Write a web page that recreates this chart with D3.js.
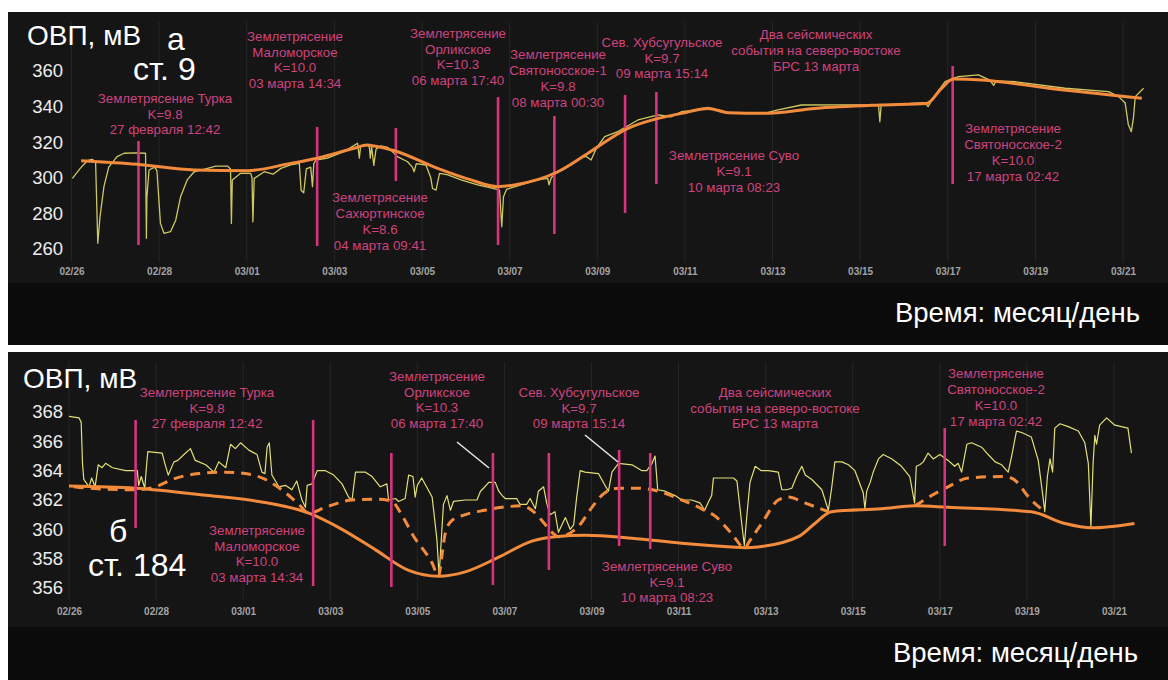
<!DOCTYPE html>
<html><head><meta charset="utf-8">
<script src="https://cdn.jsdelivr.net/npm/d3@7"></script>
<style>
body{margin:0;background:#fff;}
svg{display:block;font-family:Arial,"Liberation Sans",sans-serif;}
</style>
</head><body>
<svg id="c" width="1168" height="680"></svg>
<script>
// ---------- DATA ----------
// time offsets are in days since 26 Feb 2020 00:00
const tickDays = [0,2,4,6,8,10,12,14,16,18,20,22,24];
const yTicksTop = [260,280,300,320,340,360];
const yTicksBot = [356,358,360,362,364,366,368];

// Station 9: raw ORP (yellow) and trend (orange)
const topRaw = [[0.02,299.7],[0.2,305.3],[0.36,309.6],[0.47,310.4],[0.55,309],[0.6,263.2],[0.65,278],[0.74,295],[0.85,306],[1.04,311.9],[1.2,313.8],[1.45,314],[1.69,313.8],[1.7,290],[1.71,266],[1.72,289],[1.77,304.4],[1.9,306],[1.95,304],[2.03,274.4],[2.11,268.8],[2.26,269.7],[2.38,276.3],[2.49,289.4],[2.64,298.8],[2.8,303.4],[3.02,304.8],[3.29,306.6],[3.56,306.6],[3.63,305],[3.65,274.4],[3.67,298.8],[3.86,302.5],[4.09,302.5],[4.12,300],[4.14,275.3],[4.17,299.7],[4.4,303.4],[4.6,302],[4.78,305.3],[5.0,307.2],[5.2,308.1],[5.24,293],[5.3,291.6],[5.36,305],[5.46,306],[5.5,295],[5.53,308],[5.58,310],[5.84,311],[6.22,314.7],[6.53,319.4],[6.57,311],[6.6,318],[6.76,318.4],[6.8,317],[6.82,311],[6.85,317.5],[6.9,307],[6.95,316],[7.06,317.9],[7.22,317.1],[7.44,311.9],[7.67,309],[7.78,306],[7.82,303.4],[7.87,308],[8.09,307.2],[8.2,300],[8.24,294],[8.32,293.1],[8.4,302.5],[8.59,301.6],[8.89,298.8],[9.27,296],[9.62,294],[9.77,293.1],[9.82,272.5],[9.86,289.4],[9.93,293.5],[10.26,296],[10.64,298.8],[10.87,299.7],[10.9,296],[10.95,300],[11.06,302.5],[11.4,307.2],[11.6,311],[11.75,312],[11.86,310],[11.98,316.6],[12.17,323.1],[12.47,326],[12.93,332.5],[13.39,335.3],[13.69,334.3],[13.92,337.1],[14.15,337.7],[14.53,339.6],[14.91,336.6],[15.82,336.2],[16.1,338],[16.66,340.9],[17.5,341],[18.42,340.9],[18.45,331.5],[18.48,340.9],[19.0,341.5],[19.48,342.2],[19.55,340],[19.7,346],[19.94,354],[20.24,356.8],[20.7,357.8],[20.95,355],[21.05,352],[21.1,354.4],[21.54,354],[22.68,350.3],[23.67,348.4],[23.9,345.6],[24.05,342],[24.12,330],[24.19,325.9],[24.24,334],[24.28,345.6],[24.47,350.3]];
const topTrend = [[0.22,309.6],[1.5,307.6],[2.8,304.4],[4.02,304],[5.0,308.1],[5.61,311],[6.45,316.6],[6.75,318.4],[6.83,318.2],[7.37,315.2],[8.36,305.3],[9.12,298.8],[9.73,295],[10.11,296],[11.1,303.4],[11.79,313.8],[12.7,327.8],[13.39,333.4],[13.92,336.2],[14.53,339],[14.99,336.6],[15.82,336.2],[16.97,339],[18.45,340.9],[19.52,341.8],[19.86,350.3],[20.13,355.5],[20.78,355],[22.3,350.3],[24.43,344.7]];

// Station 184: raw ORP (yellow), lower envelope (solid orange), upper arcs (dashed orange)
const botRaw = [[0,367.7],[0.23,367.6],[0.28,367.3],[0.31,364.5],[0.34,363.4],[0.46,362.9],[0.52,363.5],[0.6,362.9],[0.67,364.4],[0.76,364.2],[0.84,364.5],[1.0,364.2],[1.3,364],[1.57,364],[1.6,363],[1.66,363.6],[1.74,362.8],[1.78,364.3],[1.81,365.3],[2.14,365.2],[2.2,364.5],[2.28,363.7],[2.41,364.6],[2.5,364.7],[2.64,365.1],[2.79,365.5],[2.9,364.7],[3.14,364.4],[3.33,363.9],[3.44,364.6],[3.6,364.2],[3.71,365.8],[3.82,365.5],[3.94,365.9],[4.13,365.4],[4.32,365.1],[4.43,363.9],[4.5,363.8],[4.55,365.6],[4.6,365.9],[4.66,363.7],[4.82,362.9],[4.97,363],[5.12,362.7],[5.23,363.3],[5.35,362],[5.43,361.5],[5.47,363],[5.58,363.1],[5.7,364],[5.89,364],[6.08,363.7],[6.27,363.1],[6.42,362.2],[6.5,362],[6.58,363.9],[6.81,363.9],[6.96,363.6],[7.15,362.9],[7.3,363.1],[7.34,362],[7.5,362.1],[7.57,361.9],[7.72,362.1],[7.8,363.7],[7.9,363.6],[7.95,362.2],[8.0,363],[8.1,363.5],[8.34,362.2],[8.45,359.3],[8.5,356.8],[8.55,359.3],[8.6,361.7],[8.68,362.3],[8.76,361.3],[8.83,361.9],[9.1,362],[9.37,362],[9.45,362.6],[9.52,362.8],[9.64,363.2],[9.79,363.2],[9.87,362.6],[9.95,362.3],[10.02,362.1],[10.28,362.1],[10.36,361.7],[10.51,361.7],[10.59,362.1],[10.71,361.4],[10.78,362.6],[10.9,362.9],[10.97,361.8],[11.05,361],[11.16,361.2],[11.24,359.8],[11.4,360.8],[11.51,360],[11.59,360.3],[11.66,362.2],[11.74,364],[11.85,363.9],[12.16,363.8],[12.31,363],[12.39,362.6],[12.47,363.9],[12.62,364.5],[12.93,364.4],[13.16,364],[13.27,364],[13.39,364.5],[13.46,365],[13.52,362.7],[13.69,362.6],[13.92,362.3],[14.07,362],[14.3,362],[14.49,361.8],[14.6,361.3],[14.69,361.9],[14.76,362.3],[14.8,363.5],[15.26,363.5],[15.34,363.3],[15.45,360.4],[15.51,358.9],[15.57,361],[15.64,363.2],[15.76,364.3],[15.9,364],[16.06,364],[16.29,363.9],[16.37,362.7],[16.48,362.7],[16.6,362.8],[16.71,363.6],[16.83,364.3],[16.91,363.7],[17.06,363.4],[17.29,362.7],[17.44,361.3],[17.51,362.7],[17.59,364.6],[17.75,364.6],[17.9,364.4],[18.05,364],[18.24,362.5],[18.28,361.4],[18.32,362.6],[18.4,363.2],[18.47,363.9],[18.59,364.8],[18.7,365.1],[18.9,364.8],[19.12,364.3],[19.31,363.6],[19.42,361.8],[19.46,364.3],[19.54,364.4],[19.62,364.6],[19.73,365.2],[19.85,364.8],[20.0,365.1],[20.19,364.7],[20.34,364.3],[20.42,364.5],[20.5,363.9],[20.62,365.8],[20.73,365.9],[20.96,365.6],[21.11,365.1],[21.27,364.6],[21.42,364.4],[21.57,363.9],[21.65,365],[21.76,366.7],[21.88,366.6],[22.1,366.3],[22.26,364.7],[22.37,362.2],[22.41,361.2],[22.47,363.6],[22.53,364.8],[22.59,363.9],[22.64,366.9],[22.76,367.2],[22.95,367],[23.18,366.7],[23.33,365.9],[23.41,364.5],[23.47,360.2],[23.52,364.5],[23.56,366.4],[23.6,365.8],[23.67,367.1],[23.83,367.6],[24.02,367.1],[24.32,366.9],[24.4,365.2]];
const botLower = [[0,362.95],[1.53,362.8],[3.21,362.3],[4.36,361.9],[5.51,361.1],[6.27,360],[7.04,358.6],[7.8,357.2],[8.49,356.8],[9.1,357.1],[9.87,358.1],[10.63,359.2],[11.17,359.5],[11.86,359.6],[12.93,359.4],[14.07,359.05],[15.22,358.8],[15.53,358.75],[15.83,358.8],[16.75,359.5],[17.13,360.4],[17.51,361.2],[18.66,361.4],[19.43,361.6],[20.19,361.5],[22.1,361.2],[22.87,360.4],[23.48,360.1],[24.47,360.4]];
const botEnvelope = [[0.11,362.9],[0.46,362.8],[1.53,362.7],[1.99,362.9],[2.37,363.4],[2.98,363.8],[3.6,363.9],[4.05,363.8],[4.51,363.4],[4.97,362.5],[5.28,361.7],[5.51,361.1],[5.89,361.5],[6.5,362],[7.11,362.05],[7.42,361.9],[7.62,361.1],[7.9,359.6],[8.34,357.7],[8.49,356.8],[8.56,358.1],[8.64,359.7],[8.79,360.6],[9.1,361],[9.55,361.3],[9.94,361.5],[10.4,361.6],[10.63,361.3],[10.86,360.6],[11.09,359.8],[11.24,359.5],[11.7,360.2],[12.01,361.5],[12.31,362.5],[12.62,362.8],[13.08,362.8],[13.54,362.6],[14.07,362],[14.53,361.4],[14.84,360.9],[15.22,359.7],[15.53,358.7],[15.6,359.05],[15.91,360.4],[16.29,362],[16.52,362.2],[16.9,361.8],[17.44,361.2],null,[19.43,361.6],[19.64,362],[20.19,362.9],[20.65,363.5],[21.41,363.6],[21.64,363.5],[22.1,362],[22.41,361.2]];

// Seismic events (position on the time axis as drawn in the figure)
const events = [
  {id:"turka",  at:"2020-02-27T12:42"},
  {id:"malom",  at:"2020-03-02T14:34"},
  {id:"sakh",   at:"2020-03-04T09:41"},
  {id:"orlik",  at:"2020-03-06T17:40"},
  {id:"svyat1", at:"2020-03-08T00:30"},
  {id:"khubs",  at:"2020-03-09T15:14"},
  {id:"suvo",   at:"2020-03-10T08:23"},
  {id:"svyat2", at:"2020-03-17T02:42"}
];
const labelText = {
  turka:["Землетрясение Турка","K=9.8","27 февраля 12:42"],
  malom:["Землетрясение","Маломорское","K=10.0","03 марта 14:34"],
  sakh:["Землетрясение","Сахюртинское","K=8.6","04 марта 09:41"],
  orlik:["Землетрясение","Орликское","K=10.3","06 марта 17:40"],
  svyat1:["Землетрясение","Святоносское-1","K=9.8","08 марта 00:30"],
  khubs:["Сев. Хубсугульское","K=9.7","09 марта 15:14"],
  suvo:["Землетрясение Суво","K=9.1","10 марта 08:23"],
  svyat2:["Землетрясение","Святоносское-2","K=10.0","17 марта 02:42"],
  brs:["Два сейсмических","события на северо-востоке","БРС 13 марта"]
};

// ---------- LAYOUT ----------
const topSpans = {turka:[141,245],malom:[127,246],sakh:[128,181],orlik:[97,245],svyat1:[116,234],khubs:[95,213],suvo:[92,184],svyat2:[66,184]};
const botSpans = {turka:[420,528],malom:[420,586],sakh:[453,587],orlik:[453,585],svyat1:[453,570],khubs:[450,546],suvo:[453,549],svyat2:[428,546]};
const topLabels = [["turka",165,103,15.5],["malom",295,41,15.7],["sakh",380,202,16],["orlik",458,38,15.5],["svyat1",558,59,16],["khubs",662,47,15.5],["brs",816,39,16],["suvo",734,160,16],["svyat2",1013,133,16]];
const botLabels = [["turka",207,397,15.5],["malom",257,535,15.5],["orlik",437,381,15.5],["khubs",579,397,15.5],["brs",775,397,15.5],["svyat2",996,378,16],["suvo",667,571,15.5]];

// ---------- DRAW ----------
const svg = d3.select("#c");
const start = Date.UTC(2020,1,26);
const dd = d => new Date(start + d*864e5);
const parse = d3.utcParse("%Y-%m-%dT%H:%M");
const fmt = d3.utcFormat("%m/%d");
const FONT = "Arial,'Liberation Sans',sans-serif";

const ORANGE="#f28b3b", MAG="#d8337f", MAGTXT="#cf437f";

function panel(cfg){
  const g = svg.append("g");
  g.append("rect").attr("x",8).attr("y",cfg.py0).attr("width",1160).attr("height",cfg.py1-cfg.py0).attr("fill","#0b0b0b");
  g.append("rect").attr("x",8).attr("y",cfg.py0).attr("width",1160).attr("height",cfg.plotBottom-cfg.py0).attr("fill","#151515");
  const x = d3.scaleUtc().domain([dd(0),dd(24)]).range(cfg.xr);
  const y = d3.scaleLinear().domain(cfg.yd).range(cfg.yr);
  g.append("g").selectAll("line").data(tickDays).join("line")
    .attr("x1",d=>x(dd(d))).attr("x2",d=>x(dd(d)))
    .attr("y1",cfg.gy[0]).attr("y2",cfg.gy[1]).attr("stroke","#262626").attr("stroke-width",1);
  const xa = g.append("g").attr("transform",`translate(0,${cfg.xAxisY})`)
    .call(d3.axisBottom(x).tickValues(tickDays.map(dd)).tickFormat(fmt).tickSize(0).tickPadding(0));
  xa.select(".domain").remove();
  xa.selectAll("text").attr("fill","#a3a3a3").attr("font-size",10).attr("font-weight","bold").attr("font-family",FONT);
  const ya = g.append("g").attr("transform",`translate(${cfg.yAxisX},0)`)
    .call(d3.axisLeft(y).tickValues(cfg.yticks).tickSize(0).tickPadding(0));
  ya.select(".domain").remove();
  ya.selectAll("text").attr("fill","#ececec").attr("font-size",18.5).attr("font-family",FONT);
  return {g,x,y};
}

function evLines(p, spans){
  p.g.append("g").selectAll("line").data(events).join("line")
    .attr("x1",e=>p.x(parse(e.at))).attr("x2",e=>p.x(parse(e.at)))
    .attr("y1",e=>spans[e.id][0]).attr("y2",e=>spans[e.id][1])
    .attr("stroke",MAG).attr("stroke-width",2.6);
}
function labels(g, list){
  list.forEach(([id,x,y,lh])=>{
    const t = g.append("text").attr("text-anchor","middle").attr("fill",MAGTXT).attr("font-size",13.3);
    labelText[id].forEach((s,i)=>t.append("tspan").attr("x",x).attr("y",y+i*lh).text(s));
  });
}
function series(p, data, color, w, dash, curve){
  const line = d3.line().defined(d=>d!==null).x(d=>p.x(dd(d[0]))).y(d=>p.y(d[1])).curve(curve);
  p.g.append("path").attr("d",line(data)).attr("fill","none").attr("stroke",color)
    .attr("stroke-width",w).attr("stroke-dasharray",dash).attr("stroke-linejoin","round").attr("stroke-linecap","butt");
}

// ---- top panel (a, st. 9)
const T = panel({py0:12,py1:345,plotBottom:283,xr:[71.5,1123],yd:[260,360],yr:[249,71],gy:[22,262],xAxisY:267.5,yAxisX:63,yticks:yTicksTop});
series(T, topRaw, "#cfc862", 1.3, null, d3.curveLinear);
evLines(T, topSpans);
series(T, topTrend, ORANGE, 3, null, d3.curveMonotoneX);
labels(T.g, topLabels);
T.g.append("text").attr("x",27).attr("y",45).attr("fill","#fff").attr("font-size",28).text("ОВП, мВ");
const tA = T.g.append("text").attr("fill","#fff").attr("font-size",32);
tA.append("tspan").attr("x",167).attr("y",50).text("а");
tA.append("tspan").attr("x",133).attr("y",80).text("ст. 9");
T.g.append("text").attr("x",1140).attr("y",322).attr("text-anchor","end").attr("fill","#fff").attr("font-size",27.5).text("Время: месяц/день");

// ---- bottom panel (б, st. 184)
const B = panel({py0:352,py1:680,plotBottom:627,xr:[69,1114],yd:[356,368],yr:[588,412],gy:[362,600],xAxisY:607.5,yAxisX:63,yticks:yTicksBot});
series(B, botRaw, "#e2df76", 1.2, null, d3.curveLinear);
series(B, botLower, ORANGE, 3, null, d3.curveMonotoneX);
series(B, botEnvelope, ORANGE, 3, "10,7", d3.curveMonotoneX);
evLines(B, botSpans);
labels(B.g, botLabels);
const leaders = [[457,442,489,468],[585,435,618,462]];
B.g.append("g").selectAll("line").data(leaders).join("line")
  .attr("x1",d=>d[0]).attr("y1",d=>d[1]).attr("x2",d=>d[2]).attr("y2",d=>d[3])
  .attr("stroke","#e8e8e8").attr("stroke-width",1.5);
B.g.append("text").attr("x",23).attr("y",388).attr("fill","#fff").attr("font-size",28).text("ОВП, мВ");
const tB = B.g.append("text").attr("fill","#fff").attr("font-size",32);
tB.append("tspan").attr("x",109).attr("y",542).text("б");
tB.append("tspan").attr("x",88).attr("y",576).text("ст. 184");
B.g.append("text").attr("x",1138).attr("y",662).attr("text-anchor","end").attr("fill","#fff").attr("font-size",27.5).text("Время: месяц/день");
</script>
</body></html>
